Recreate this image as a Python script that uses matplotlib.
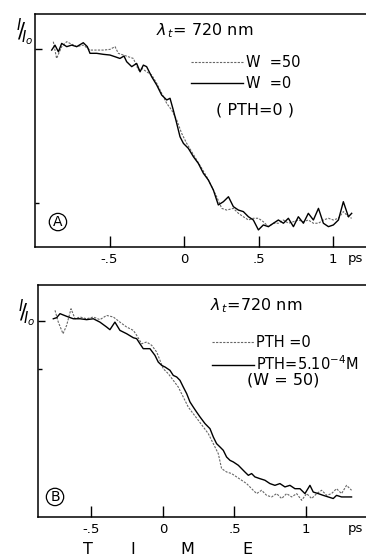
import matplotlib
matplotlib.use("Agg")
import matplotlib.pyplot as plt

plt.rcParams['font.family'] = ['DejaVu Sans']
plt.rcParams['mathtext.fontset'] = 'dejavusans'

# panel A: time (ps) and normalised transmission I/I0
a_t_w0 = [-0.888, -0.866, -0.843, -0.821, -0.787, -0.754, -0.720, -0.676, -0.649, -0.631,
          -0.586, -0.541, -0.497, -0.463, -0.430, -0.403, -0.385, -0.351, -0.318, -0.295,
          -0.273, -0.251, -0.217, -0.183, -0.150, -0.116, -0.094, -0.072, -0.049, -0.027,
          -0.004, 0.029, 0.063, 0.096, 0.130, 0.163, 0.197, 0.230, 0.264, 0.298,
          0.331, 0.365, 0.398, 0.432, 0.465, 0.499, 0.532, 0.566, 0.600, 0.633,
          0.667, 0.700, 0.734, 0.767, 0.801, 0.834, 0.868, 0.902, 0.935, 0.969,
          1.002, 1.036, 1.069, 1.103, 1.125]
a_i_w0 = [0.994, 1.023, 0.984, 1.033, 1.014, 1.023, 1.014, 1.037, 1.014, 0.975,
          0.975, 0.969, 0.965, 0.955, 0.945, 0.959, 0.926, 0.897, 0.916, 0.867,
          0.906, 0.897, 0.838, 0.789, 0.731, 0.702, 0.712, 0.643, 0.565, 0.487,
          0.448, 0.419, 0.370, 0.331, 0.273, 0.234, 0.175, 0.088, 0.107, 0.136,
          0.078, 0.058, 0.049, 0.019, 0.000, -0.058, -0.029, -0.039, -0.019, 0.000,
          -0.019, 0.010, -0.039, 0.019, -0.019, 0.039, 0.000, 0.068, -0.019, -0.039,
          -0.029, 0.000, 0.107, 0.019, 0.039]

a_t_w50 = [-0.877, -0.855, -0.821, -0.787, -0.765, -0.720, -0.676, -0.631, -0.586, -0.541,
           -0.497, -0.463, -0.441, -0.407, -0.374, -0.340, -0.306, -0.284, -0.251, -0.217,
           -0.183, -0.150, -0.116, -0.083, -0.049, -0.016, 0.018, 0.051, 0.085, 0.119,
           0.152, 0.186, 0.219, 0.253, 0.286, 0.331, 0.365, 0.398, 0.432, 0.465,
           0.499, 0.532, 0.566, 0.600, 0.633, 0.667, 0.700, 0.734, 0.767, 0.801,
           0.834, 0.868, 0.902, 0.935, 0.969, 1.002, 1.036, 1.069, 1.103, 1.125]
a_i_w50 = [1.043, 0.945, 1.014, 1.043, 1.033, 1.014, 1.023, 0.994, 0.994, 0.994,
           0.998, 1.014, 0.975, 0.965, 0.955, 0.945, 0.877, 0.887, 0.867, 0.848,
           0.799, 0.741, 0.682, 0.643, 0.585, 0.507, 0.448, 0.400, 0.351, 0.302,
           0.253, 0.195, 0.136, 0.068, 0.058, 0.068, 0.039, 0.019, 0.000, 0.010,
           0.010, -0.010, -0.039, -0.019, -0.019, 0.000, -0.019, -0.010, 0.000, -0.010,
           0.000, -0.019, -0.019, 0.000, 0.010, 0.000, 0.010, 0.049, 0.019, 0.010]

# panel B
b_t_pth = [-0.767, -0.744, -0.720, -0.674, -0.627, -0.580, -0.534, -0.487, -0.441, -0.394,
           -0.371, -0.336, -0.301, -0.254, -0.207, -0.184, -0.161, -0.138, -0.091, -0.056,
           -0.033, -0.009, 0.014, 0.049, 0.072, 0.096, 0.119, 0.142, 0.166, 0.189,
           0.212, 0.235, 0.259, 0.294, 0.329, 0.352, 0.375, 0.399, 0.422, 0.445,
           0.469, 0.492, 0.527, 0.550, 0.573, 0.597, 0.620, 0.643, 0.678, 0.713,
           0.748, 0.783, 0.818, 0.853, 0.888, 0.923, 0.958, 0.993, 1.028, 1.051,
           1.086, 1.121, 1.156, 1.191, 1.214, 1.249, 1.284, 1.319]
b_i_pth = [1.013, 1.019, 1.042, 1.027, 1.013, 1.013, 1.008, 1.013, 0.994, 0.966,
           0.951, 0.994, 0.947, 0.928, 0.905, 0.900, 0.871, 0.843, 0.843, 0.805,
           0.767, 0.748, 0.739, 0.720, 0.691, 0.682, 0.663, 0.625, 0.587, 0.540,
           0.511, 0.483, 0.455, 0.417, 0.388, 0.341, 0.303, 0.284, 0.265, 0.227,
           0.208, 0.199, 0.180, 0.161, 0.142, 0.123, 0.133, 0.114, 0.104, 0.095,
           0.076, 0.066, 0.076, 0.057, 0.066, 0.047, 0.047, 0.019, 0.066, 0.028,
           0.019, 0.009, 0.000, -0.009, 0.009, 0.000, 0.000, 0.000]

b_t_0 = [-0.755, -0.732, -0.699, -0.674, -0.643, -0.615, -0.580, -0.534, -0.487, -0.441,
         -0.394, -0.347, -0.301, -0.254, -0.207, -0.184, -0.149, -0.114, -0.079, -0.044,
         -0.021, 0.002, 0.037, 0.072, 0.107, 0.142, 0.177, 0.212, 0.247, 0.282,
         0.317, 0.352, 0.387, 0.410, 0.445, 0.480, 0.515, 0.550, 0.585, 0.620,
         0.655, 0.690, 0.725, 0.760, 0.795, 0.830, 0.865, 0.900, 0.935, 0.970,
         1.005, 1.040, 1.075, 1.110, 1.145, 1.179, 1.214, 1.249, 1.284, 1.319]
b_i_0 = [1.061, 0.994, 0.928, 0.975, 1.070, 1.013, 1.023, 1.013, 1.023, 1.008,
         1.032, 1.023, 0.994, 0.966, 0.947, 0.919, 0.871, 0.881, 0.862, 0.824,
         0.777, 0.729, 0.701, 0.663, 0.625, 0.568, 0.511, 0.473, 0.436, 0.398,
         0.360, 0.303, 0.246, 0.161, 0.142, 0.133, 0.114, 0.095, 0.076, 0.047,
         0.019, 0.038, 0.009, 0.000, 0.019, -0.009, 0.019, 0.000, 0.019, -0.019,
         0.019, -0.009, 0.019, 0.038, 0.009, 0.019, 0.047, 0.019, 0.066, 0.038]

xticks = [-0.5, 0, 0.5, 1]
xticklabels = ['-.5', '0', '.5', '1']

W = 366
H = 557
fig = plt.figure(figsize=(W / 100, H / 100), dpi=100)

axA = fig.add_axes([35 / W, 1 - 247 / H, (W - 35) / W, (247 - 14) / H])
axB = fig.add_axes([38 / W, 1 - 517 / H, (W - 38) / W, (517 - 285) / H])

dash_style = dict(color='0.4', lw=0.8, ls=(0, (2, 1.2)))
solid_style = dict(color='black', lw=1.0)

axA.plot(a_t_w50, a_i_w50, label='W  =50', **dash_style)
axA.plot(a_t_w0, a_i_w0, label='W  =0', **solid_style)
axA.set_xlim(-1.0, 1.221)
axA.set_ylim(-0.158, 1.205)

axB.plot(b_t_0, b_i_0, label='PTH =0', **dash_style)
axB.plot(b_t_pth, b_i_pth, label='PTH=5.10$^{-4}$M', **solid_style)
axB.set_xlim(-0.874, 1.42)
axB.set_ylim(-0.114, 1.205)

for ax, ps_x in ((axA, 1.148), (axB, 1.343)):
    ax.spines['right'].set_visible(False)
    for s in ('left', 'top', 'bottom'):
        ax.spines[s].set_linewidth(1.1)
    ax.set_xticks(xticks)
    ax.set_xticklabels(xticklabels, fontsize=9.5)
    ax.tick_params(axis='x', direction='in', length=8, width=1.0, pad=4)
    ax.set_yticks([1.0])
    ax.set_yticklabels([''])
    ax.tick_params(axis='y', direction='in', length=5, width=1.0)
    ax.text(ps_x, -0.02, 'ps', transform=ax.get_xaxis_transform(),
            ha='center', va='top', fontsize=9.5)

axA.set_yticks([0.1], minor=True)
axA.tick_params(axis='y', which='minor', direction='in', length=3, width=1.0)
axB.set_yticks([0.727], minor=True)
axB.tick_params(axis='y', which='minor', direction='in', length=3, width=1.0)

# panel A annotations
axA.legend(loc='upper left', bbox_to_anchor=(0.47, 0.825), frameon=False,
           fontsize=10.5, handlelength=3.6, handletextpad=0.2,
           labelspacing=0.4, borderpad=0, borderaxespad=0)
axA.text(-0.19, 1.11, r'$\lambda_{\,t}$= 720 nm', fontsize=11.5, ha='left', va='center')
axA.text(0.476, 0.643, '( PTH=0 )', fontsize=11.5, ha='center', va='center')
axA.text(-0.846, -0.012, 'A', fontsize=10, ha='center', va='center',
         bbox=dict(boxstyle='circle,pad=0.12', fc='white', ec='black', lw=0.9))
axA.text(-1.067, 1.099, r'$^{I}\!/\!_{I_o}$', fontsize=15, ha='center', va='center',
         clip_on=False)

# panel B annotations
axB.legend(loc='upper left', bbox_to_anchor=(0.53, 0.785), frameon=False,
           fontsize=10.5, handlelength=2.9, handletextpad=0.1,
           labelspacing=0.3, borderpad=0, borderaxespad=0)
axB.text(0.329, 1.09, r'$\lambda_{\,t}$=720 nm', fontsize=11.5, ha='left', va='center')
axB.text(0.839, 0.665, '(W = 50)', fontsize=11.5, ha='center', va='center')
axB.text(-0.755, 0.0, 'B', fontsize=10, ha='center', va='center',
         bbox=dict(boxstyle='circle,pad=0.12', fc='white', ec='black', lw=0.9))
axB.text(-0.951, 1.045, r'$^{I}\!/\!_{I_o}$', fontsize=15, ha='center', va='center',
         clip_on=False)

for letter, px in zip('TIME', [88, 133, 187, 247]):
    fig.text(px / W, 1 - 550 / H, letter, fontsize=11.5, ha='center', va='center')

fig.savefig('out.png', dpi=100)
